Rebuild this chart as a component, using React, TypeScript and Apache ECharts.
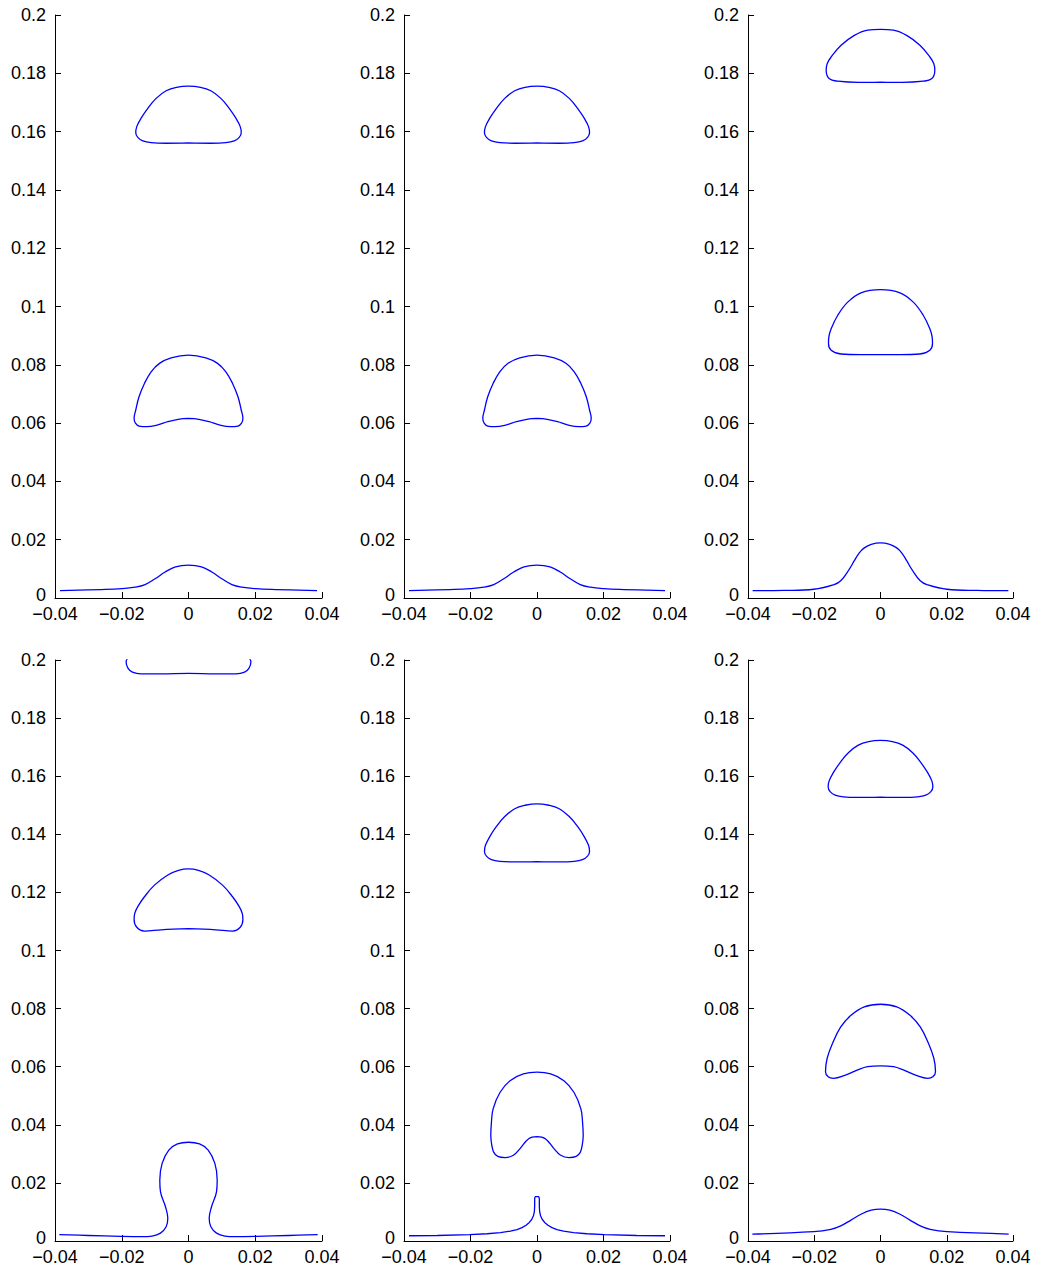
import React, { useEffect, useRef } from "react";
import * as echarts from "echarts";

// ---------- data ----------
const xTicks = [-0.04, -0.02, 0, 0.02, 0.04];
const yTicks = [0, 0.02, 0.04, 0.06, 0.08, 0.1, 0.12, 0.14, 0.16, 0.18, 0.2];

// Panel 1 & 2 (identical)
const drop1Top: number[][] = [
  [0, 0.1561], [0.0067, 0.156], [0.0112, 0.1562], [0.0137, 0.1568], [0.0152, 0.158], [0.0158, 0.1596],
  [0.0155, 0.1617], [0.0142, 0.1646], [0.0122, 0.168], [0.0097, 0.1714], [0.0067, 0.174], [0.0036, 0.1752],
  [0, 0.1756], [-0.0036, 0.1752], [-0.0067, 0.174], [-0.0097, 0.1714], [-0.0122, 0.168], [-0.0142, 0.1646],
  [-0.0155, 0.1617], [-0.0158, 0.1596], [-0.0152, 0.158], [-0.0137, 0.1568], [-0.0112, 0.1562], [-0.0067, 0.156],
  [0, 0.1561],
];
const drop1Mid: number[][] = [
  [0, 0.0616], [0.0031, 0.0613], [0.0062, 0.0605], [0.0092, 0.0594], [0.0125, 0.0588], [0.0148, 0.059],
  [0.0159, 0.06], [0.0163, 0.0616], [0.0158, 0.0645], [0.0148, 0.0691], [0.0132, 0.0736], [0.0112, 0.0776],
  [0.0087, 0.0805], [0.0052, 0.0824], [0, 0.0833], [-0.0052, 0.0824], [-0.0087, 0.0805], [-0.0112, 0.0776],
  [-0.0132, 0.0736], [-0.0148, 0.0691], [-0.0158, 0.0645], [-0.0163, 0.0616], [-0.0159, 0.06], [-0.0148, 0.059],
  [-0.0125, 0.0588], [-0.0092, 0.0594], [-0.0062, 0.0605], [-0.0031, 0.0613], [0, 0.0616],
];
const wave1: number[][] = [
  [-0.0385, 0.0025], [-0.0262, 0.0029], [-0.0201, 0.0032], [-0.016, 0.0037], [-0.013, 0.0046], [-0.01, 0.0066],
  [-0.007, 0.0089], [-0.0039, 0.0107], [0, 0.0113], [0.0039, 0.0107], [0.007, 0.0089], [0.01, 0.0066],
  [0.013, 0.0046], [0.016, 0.0037], [0.0201, 0.0032], [0.0262, 0.0029], [0.0385, 0.0025],
];

// Panel 3
const drop3Top: number[][] = [
  [0, 0.177], [0.0065, 0.1769], [0.0129, 0.1773], [0.0154, 0.1781], [0.0164, 0.181], [0.0161, 0.1833],
  [0.0149, 0.1856], [0.0119, 0.1896], [0.0079, 0.193], [0.0039, 0.1948], [0, 0.1951], [-0.0039, 0.1948],
  [-0.0079, 0.193], [-0.0119, 0.1896], [-0.0149, 0.1856], [-0.0161, 0.1833], [-0.0164, 0.181], [-0.0154, 0.1781],
  [-0.0129, 0.1773], [-0.0065, 0.1769], [0, 0.177],
];
const drop3Mid: number[][] = [
  [0, 0.0835], [0.006, 0.0835], [0.0119, 0.0837], [0.0149, 0.085], [0.0157, 0.0873], [0.0156, 0.0895],
  [0.0149, 0.0924], [0.0129, 0.097], [0.0099, 0.1015], [0.0059, 0.1047], [0, 0.1058], [-0.0059, 0.1047],
  [-0.0099, 0.1015], [-0.0129, 0.097], [-0.0149, 0.0924], [-0.0156, 0.0895], [-0.0157, 0.0873], [-0.0149, 0.085],
  [-0.0119, 0.0837], [-0.006, 0.0835], [0, 0.0835],
];
const wave3: number[][] = [
  [-0.0386, 0.0025], [-0.0292, 0.0026], [-0.0201, 0.003], [-0.014, 0.0046], [-0.012, 0.0059], [-0.0094, 0.0099],
  [-0.0079, 0.0128], [-0.0064, 0.0155], [-0.0049, 0.0172], [-0.0028, 0.0184], [0, 0.0189], [0.0028, 0.0184],
  [0.0049, 0.0172], [0.0064, 0.0155], [0.0079, 0.0128], [0.0094, 0.0099], [0.012, 0.0059], [0.014, 0.0046],
  [0.0201, 0.003], [0.0292, 0.0026], [0.0386, 0.0025],
];

// Panel 4
const cap4: number[][] = [
  [-0.0183, 0.2005], [-0.0187, 0.1994], [-0.0181, 0.1971], [-0.0168, 0.1958], [-0.0142, 0.1952], [-0.0082, 0.1952],
  [0, 0.1954], [0.0082, 0.1952], [0.0142, 0.1952], [0.0168, 0.1958], [0.0181, 0.1971], [0.0187, 0.1994],
  [0.0183, 0.2005],
];
const drop4Mid: number[][] = [
  [0, 0.1075], [0.0082, 0.1071], [0.0132, 0.1067], [0.0155, 0.108], [0.0163, 0.1107], [0.0161, 0.1128],
  [0.0152, 0.1151], [0.0132, 0.1185], [0.0102, 0.1225], [0.0062, 0.126], [0.003, 0.1276], [0, 0.1281],
  [-0.003, 0.1276], [-0.0062, 0.126], [-0.0102, 0.1225], [-0.0132, 0.1185], [-0.0152, 0.1151], [-0.0161, 0.1128],
  [-0.0163, 0.1107], [-0.0155, 0.108], [-0.0132, 0.1067], [-0.0082, 0.1071], [0, 0.1075],
];
const mush4: number[][] = [
  [-0.0387, 0.0022], [-0.03, 0.0019], [-0.0203, 0.0016], [-0.0139, 0.0015], [-0.0109, 0.0017], [-0.0084, 0.0027],
  [-0.0067, 0.0049], [-0.0062, 0.0078], [-0.0069, 0.0118], [-0.0084, 0.017], [-0.0086, 0.021], [-0.0079, 0.0267],
  [-0.0059, 0.0313], [-0.0033, 0.0334], [0, 0.034], [0.0033, 0.0334], [0.0059, 0.0313], [0.0079, 0.0267],
  [0.0086, 0.021], [0.0084, 0.017], [0.0069, 0.0118], [0.0062, 0.0078], [0.0067, 0.0049], [0.0084, 0.0027],
  [0.0109, 0.0017], [0.0139, 0.0015], [0.0203, 0.0016], [0.03, 0.0019], [0.0387, 0.0022],
];

// Panel 5
const drop5Top: number[][] = [
  [0, 0.1306], [0.0067, 0.1305], [0.0112, 0.1307], [0.0137, 0.1313], [0.0152, 0.1325], [0.0158, 0.1341],
  [0.0155, 0.1362], [0.0142, 0.1392], [0.0122, 0.1427], [0.0097, 0.1461], [0.0067, 0.1488], [0.0036, 0.15],
  [0, 0.1505], [-0.0036, 0.15], [-0.0067, 0.1488], [-0.0097, 0.1461], [-0.0122, 0.1427], [-0.0142, 0.1392],
  [-0.0155, 0.1362], [-0.0158, 0.1341], [-0.0152, 0.1325], [-0.0137, 0.1313], [-0.0112, 0.1307], [-0.0067, 0.1305],
  [0, 0.1306],
];
const drop5Mid: number[][] = [
  [0, 0.0359], [0.0025, 0.0352], [0.0051, 0.0318], [0.0071, 0.0295], [0.0096, 0.0287], [0.0118, 0.0291],
  [0.013, 0.0305], [0.0136, 0.033], [0.0139, 0.0363], [0.0137, 0.0409], [0.0132, 0.0455], [0.0111, 0.0512],
  [0.0081, 0.0552], [0.0041, 0.0575], [0, 0.0581], [-0.0041, 0.0575], [-0.0081, 0.0552], [-0.0111, 0.0512],
  [-0.0132, 0.0455], [-0.0137, 0.0409], [-0.0139, 0.0363], [-0.0136, 0.033], [-0.013, 0.0305], [-0.0118, 0.0291],
  [-0.0096, 0.0287], [-0.0071, 0.0295], [-0.0051, 0.0318], [-0.0025, 0.0352], [0, 0.0359],
];
const spike5: number[][] = [
  [-0.0385, 0.0018], [-0.03, 0.0019], [-0.0203, 0.0022], [-0.015, 0.0025], [-0.011, 0.0029], [-0.008, 0.0034],
  [-0.006, 0.0039], [-0.0045, 0.0046], [-0.0033, 0.0054], [-0.0023, 0.0064], [-0.0016, 0.0074], [-0.0011, 0.0086],
  [-0.0008, 0.01], [-0.0007, 0.012], [-0.0007, 0.0145], [-0.0006, 0.0151], [-0.0004, 0.0153], [0.0004, 0.0153],
  [0.0006, 0.0151], [0.0007, 0.0145], [0.0007, 0.012], [0.0008, 0.01], [0.0011, 0.0086], [0.0016, 0.0074],
  [0.0023, 0.0064], [0.0033, 0.0054], [0.0045, 0.0046], [0.006, 0.0039], [0.008, 0.0034], [0.011, 0.0029],
  [0.015, 0.0025], [0.0203, 0.0022], [0.03, 0.0019], [0.0385, 0.0018],
];

// Panel 6
const drop6Top: number[][] = [
  [0, 0.1528], [0.0067, 0.1527], [0.0112, 0.1529], [0.0137, 0.1535], [0.0152, 0.1547], [0.0158, 0.1563],
  [0.0155, 0.1584], [0.0142, 0.1613], [0.0122, 0.1647], [0.0097, 0.1681], [0.0067, 0.1707], [0.0036, 0.1719],
  [0, 0.1723], [-0.0036, 0.1719], [-0.0067, 0.1707], [-0.0097, 0.1681], [-0.0122, 0.1647], [-0.0142, 0.1613],
  [-0.0155, 0.1584], [-0.0158, 0.1563], [-0.0152, 0.1547], [-0.0137, 0.1535], [-0.0112, 0.1529], [-0.0067, 0.1527],
  [0, 0.1528],
];
const drop6Mid: number[][] = [
  [0, 0.0603], [0.0039, 0.06], [0.0069, 0.0589], [0.011, 0.0569], [0.0142, 0.056], [0.0158, 0.0565],
  [0.0166, 0.0583], [0.0161, 0.0629], [0.0145, 0.068], [0.012, 0.0737], [0.0089, 0.0777], [0.0049, 0.0806],
  [0, 0.0815], [-0.0049, 0.0806], [-0.0089, 0.0777], [-0.012, 0.0737], [-0.0145, 0.068], [-0.0161, 0.0629],
  [-0.0166, 0.0583], [-0.0158, 0.0565], [-0.0142, 0.056], [-0.011, 0.0569], [-0.0069, 0.0589], [-0.0039, 0.06],
  [0, 0.0603],
];
const wave6: number[][] = [
  [-0.0387, 0.0024], [-0.0201, 0.0032], [-0.015, 0.004], [-0.012, 0.0052], [-0.0089, 0.0072], [-0.0059, 0.0092],
  [-0.0028, 0.0106], [0, 0.011], [0.0028, 0.0106], [0.0059, 0.0092], [0.0089, 0.0072], [0.012, 0.0052],
  [0.015, 0.004], [0.0201, 0.0032], [0.0387, 0.0024],
];

const panelCurves: number[][][][] = [
  [drop1Top, drop1Mid, wave1],
  [drop1Top, drop1Mid, wave1],
  [drop3Top, drop3Mid, wave3],
  [cap4, drop4Mid, mush4],
  [drop5Top, drop5Mid, spike5],
  [drop6Top, drop6Mid, wave6],
];
// curves drawn as straight segments (sharp features)
const unsmoothed = [spike5];

// ---------- layout ----------
const gridBoxes = [
  { left: 55, top: 15, width: 267, height: 583 },
  { left: 404, top: 15, width: 266, height: 583 },
  { left: 748, top: 15, width: 265, height: 583 },
  { left: 55, top: 660, width: 267, height: 581 },
  { left: 404, top: 660, width: 266, height: 581 },
  { left: 748, top: 660, width: 265, height: 581 },
];

const FONT = "'Liberation Sans', Arial, Helvetica, sans-serif";

function fmtX(v: number) {
  if (Math.abs(v) < 1e-9) return "0";
  const s = Math.abs(v).toFixed(2);
  return v < 0 ? "\u2212" + s : s;
}
function fmtY(v: number) {
  if (Math.abs(v) < 1e-9) return "{z|0}";
  return String(Number(v.toFixed(2)));
}

export default function App() {
  const ref = useRef<HTMLDivElement>(null);
  useEffect(() => {
    if (!ref.current) return;
    const chart = echarts.init(ref.current, undefined, { renderer: "svg" });
    const grid = gridBoxes.map((g) => ({ ...g, containLabel: false }));
    const axisCommon = {
      axisLine: { show: true, onZero: false, lineStyle: { color: "#000", width: 1 } },
      axisTick: { show: true, inside: true, length: 6, lineStyle: { color: "#000", width: 1 } },
      splitLine: { show: false },
    };
    const xAxis = gridBoxes.map((_, i) => ({
      type: "value",
      gridIndex: i,
      min: xTicks[0],
      max: xTicks[xTicks.length - 1],
      interval: 0.02,
      ...axisCommon,
      axisLabel: {
        color: "#000", fontSize: 18, lineHeight: 12, fontFamily: FONT, margin: 10,
        formatter: fmtX, showMinLabel: true, showMaxLabel: true,
      },
    }));
    const yAxis = gridBoxes.map((_, i) => ({
      type: "value",
      gridIndex: i,
      min: yTicks[0],
      max: yTicks[yTicks.length - 1],
      interval: 0.02,
      ...axisCommon,
      axisLabel: {
        color: "#000", fontSize: 18, lineHeight: 12, fontFamily: FONT, margin: 9,
        formatter: fmtY, showMinLabel: true, showMaxLabel: true,
        rich: {
          z: { color: "#000", fontSize: 18, lineHeight: 12, fontFamily: FONT, padding: [0, 0, 6, 0] },
        },
      },
    }));
    const series: any[] = [];
    panelCurves.forEach((curves, i) => {
      curves.forEach((c) => {
        series.push({
          type: "line",
          xAxisIndex: i,
          yAxisIndex: i,
          data: c,
          smooth: unsmoothed.includes(c) ? false : 0.4,
          showSymbol: false,
          symbol: "none",
          clip: true,
          lineStyle: { color: "#0000ff", width: 1.3 },
          silent: true,
        });
      });
    });
    chart.setOption({
      animation: false,
      backgroundColor: "#fff",
      grid,
      xAxis,
      yAxis,
      series,
    });
    return () => chart.dispose();
  }, []);
  return (
    <div
      ref={ref}
      style={{ position: "absolute", left: 0, top: 0, width: 1037, height: 1272, background: "#fff" }}
    />
  );
}
